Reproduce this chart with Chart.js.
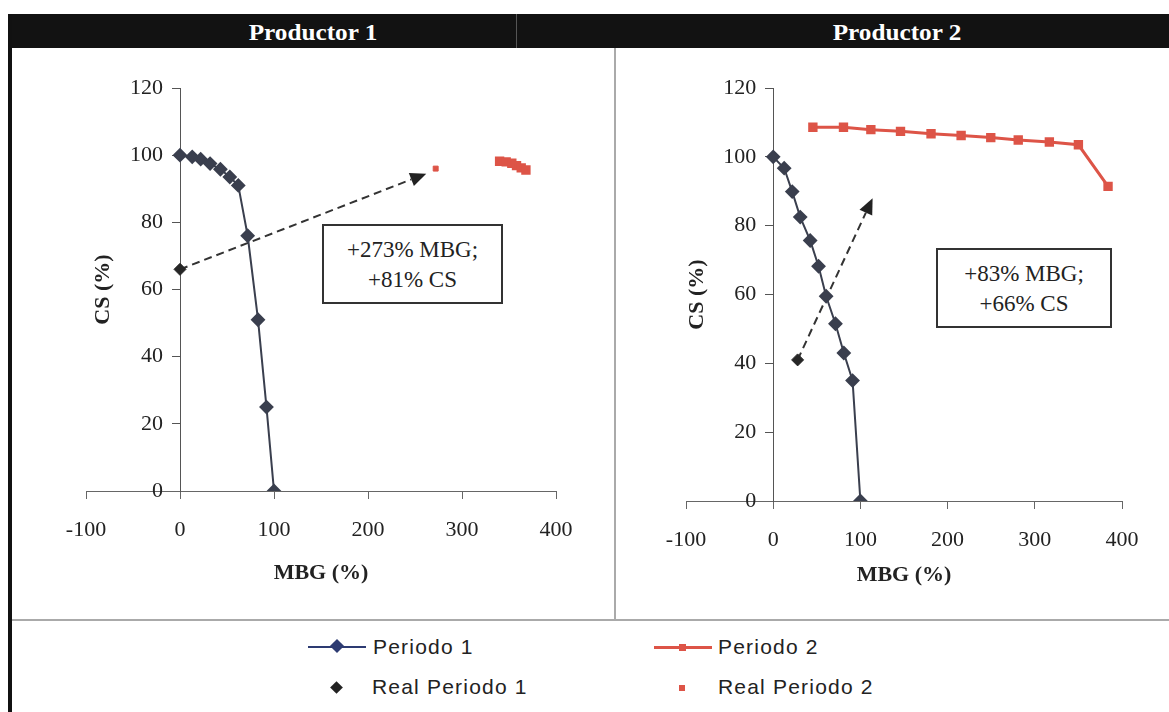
<!DOCTYPE html>
<html>
<head>
<meta charset="utf-8">
<script src="https://cdn.jsdelivr.net/npm/chart.js@4.4.1/dist/chart.umd.min.js"></script>
<style>
  body { margin: 0; background: #fff; width: 1169px; height: 712px; position: relative; overflow: hidden; font-family: "Liberation Serif", serif; }
  .abs { position: absolute; }
  #head { left: 10px; top: 14px; width: 1159px; height: 34px; background: #121212; }
  .htitle { top: 14px; height: 34px; line-height: 36px; color: #fff; font-weight: bold; font-size: 24px; transform: translateX(-50%) scaleX(1.05); white-space: nowrap; }
  #hsplit { left: 516px; top: 14px; width: 1px; height: 34px; background: #555; }
  #leftEdge { left: 8px; top: 14px; width: 4px; height: 698px; background: #111; }
  #vsplit { left: 614px; top: 48px; width: 2px; height: 572px; background: #aaa; }
  #hline { left: 12px; top: 619px; width: 1157px; height: 2px; background: #aaa; }
  .note { border: 2px solid #333; background: #fff; text-align: center; font-size: 23px; line-height: 30px; color: #222; box-sizing: border-box; padding-top: 9px; }
  .lg { font-family: "Liberation Sans", Arial, sans-serif; font-size: 21px; letter-spacing: 1.2px; color: #222; line-height: 22px; }
</style>
</head>
<body>
<div id="head" class="abs"></div>
<div id="hsplit" class="abs"></div>
<div class="abs htitle" style="left:313px">Productor 1</div>
<div class="abs htitle" style="left:897px">Productor 2</div>
<div id="leftEdge" class="abs"></div>
<div id="vsplit" class="abs"></div>
<div id="hline" class="abs"></div>

<canvas id="chart1" class="abs" width="602" height="570" style="left:12px;top:50px"></canvas>
<canvas id="chart2" class="abs" width="552" height="570" style="left:617px;top:50px"></canvas>

<div class="abs note" style="left:322px;top:224px;width:181px;height:80px">+273% MBG;<br>+81% CS</div>
<div class="abs note" style="left:936px;top:248px;width:176px;height:80px">+83% MBG;<br>+66% CS</div>

<!-- legend -->
<div class="abs" style="left:308px;top:646px;width:58px;height:2px;background:#2d3b72"></div>
<div class="abs" style="left:332px;top:641px;width:10px;height:10px;background:#2d3b72;transform:rotate(45deg)"></div>
<div class="abs lg" style="left:373px;top:636px">Periodo 1</div>
<div class="abs" style="left:654px;top:646px;width:58px;height:3px;background:#dd5447"></div>
<div class="abs" style="left:679px;top:644px;width:7px;height:7px;background:#dd5447"></div>
<div class="abs lg" style="left:718px;top:636px">Periodo 2</div>
<div class="abs" style="left:332px;top:683px;width:9px;height:9px;background:#222;transform:rotate(45deg)"></div>
<div class="abs lg" style="left:372px;top:676px">Real Periodo 1</div>
<div class="abs" style="left:679px;top:685px;width:6px;height:6px;background:#dd5447"></div>
<div class="abs lg" style="left:718px;top:676px">Real Periodo 2</div>

<script>
// Productor 1
var p1Per1X = [0, 13, 22, 32, 43, 53, 62, 72, 83, 92, 100];
var p1Per1Y = [100, 99.5, 98.8, 97.5, 95.8, 93.5, 91, 76, 51, 25, 0];
var p1Per2X = [340, 347, 353, 358, 363, 368];
var p1Per2Y = [98.2, 98.0, 97.6, 96.9, 96.2, 95.6];
var p1Real1 = [0, 66];
var p1Real2 = [272, 96];
var p1Arrow = [[0, 66], [262, 94.5]];

// Productor 2
var p2Per1X = [0, 12.6, 21.8, 31, 42.4, 52, 60.7, 71.4, 81, 91, 100];
var p2Per1Y = [100, 96.7, 89.9, 82.5, 75.7, 68.2, 59.5, 51.5, 43, 35, 0];
var p2Per2X = [45.5, 80.6, 112, 146, 181, 215.5, 249.5, 281, 316.7, 350, 384];
var p2Per2Y = [108.6, 108.6, 107.9, 107.4, 106.7, 106.2, 105.6, 104.9, 104.3, 103.5, 91.4];
var p2Real1 = [28, 41];
var p2Arrow = [[28, 41], [114, 88]];

// axis ticks
var xMin = -100, xMax = 400, xStep = 100;
var yMin = 0, yMax = 120, yStep = 20;

var slate = '#3a3f4e';
var red = '#dd5447';
var serif = '"Liberation Serif", "Times New Roman", serif';
var tickSize = 22;
var yTickLen = 8, yTickPad = 9;

function pts(xs, ys) {
    var out = [];
    for (var i = 0; i < xs.length; i++) out.push({ x: xs[i], y: ys[i] });
    return out;
}

// dashed arrow, y tick labels and axis titles
var extras = {
    id: 'extras',
    beforeDatasetsDraw: function (chart, args, opts) {
        var ctx = chart.ctx, sx = chart.scales.x, sy = chart.scales.y;
        var a = opts.arrow;
        var x0 = sx.getPixelForValue(a[0][0]), y0 = sy.getPixelForValue(a[0][1]);
        var x1 = sx.getPixelForValue(a[1][0]), y1 = sy.getPixelForValue(a[1][1]);
        var ang = Math.atan2(y1 - y0, x1 - x0);
        var len = 16, half = 7;
        var bx = x1 - len * Math.cos(ang), by = y1 - len * Math.sin(ang);
        ctx.save();
        ctx.strokeStyle = '#333';
        ctx.lineWidth = 2;
        ctx.setLineDash([8, 5]);
        ctx.beginPath();
        ctx.moveTo(x0, y0);
        ctx.lineTo(bx, by);
        ctx.stroke();
        ctx.setLineDash([]);
        ctx.fillStyle = '#222';
        ctx.beginPath();
        ctx.moveTo(x1, y1);
        ctx.lineTo(bx + half * Math.sin(ang), by - half * Math.cos(ang));
        ctx.lineTo(bx - half * Math.sin(ang), by + half * Math.cos(ang));
        ctx.closePath();
        ctx.fill();
        ctx.restore();
    },
    afterDraw: function (chart, args, opts) {
        var ctx = chart.ctx, sx = chart.scales.x, sy = chart.scales.y;
        var axisX = sx.getPixelForValue(0);
        ctx.save();
        ctx.fillStyle = '#222';
        // y labels sit left of the tick marks on the x = 0 axis
        ctx.font = tickSize + 'px ' + serif;
        ctx.textAlign = 'right';
        ctx.textBaseline = 'middle';
        sy.ticks.forEach(function (t) {
            ctx.fillText(String(t.value), axisX - yTickLen - yTickPad, sy.getPixelForValue(t.value));
        });
        ctx.font = 'bold 22px ' + serif;
        ctx.textAlign = 'center';
        ctx.fillText('MBG (%)', (sx.left + sx.right) / 2, sy.getPixelForValue(0) + opts.xTitleGap);
        ctx.translate(axisX - opts.yTitleGap, (sy.top + sy.bottom) / 2);
        ctx.rotate(-Math.PI / 2);
        ctx.fillText('CS (%)', 0, 0);
        ctx.restore();
    }
};

function axes() {
    var tickFont = { family: serif, size: tickSize };
    return {
        x: {
            type: 'linear', min: xMin, max: xMax,
            position: { y: 0 },
            ticks: { stepSize: xStep, padding: 19, color: '#222', font: tickFont },
            grid: { display: true, drawOnChartArea: false, drawTicks: true, tickLength: 7, color: '#666' },
            border: { display: true, color: '#666', width: 1 }
        },
        y: {
            type: 'linear', min: yMin, max: yMax,
            position: { x: 0 },
            ticks: { stepSize: yStep, display: false, font: tickFont },
            grid: { display: true, drawOnChartArea: false, drawTicks: true, tickLength: yTickLen, color: '#555' },
            border: { display: true, color: '#555', width: 1 }
        }
    };
}

function makeChart(id, per1, per2, real1, real2, arrow, pad, xTitleGap, yTitleGap) {
    var sets = [
        { label: 'Periodo 1', data: per1, showLine: true, borderColor: slate, borderWidth: 2,
          pointStyle: 'rectRot', pointRadius: 6, pointBackgroundColor: slate, pointBorderColor: slate },
        { label: 'Periodo 2', data: per2, showLine: true, borderColor: red, borderWidth: 3,
          pointStyle: 'rect', pointRadius: 4.5, pointBackgroundColor: red, pointBorderColor: red },
        { label: 'Real Periodo 1', data: [{ x: real1[0], y: real1[1] }], showLine: false,
          pointStyle: 'rectRot', pointRadius: 6, pointBackgroundColor: '#262626', pointBorderColor: '#262626' }
    ];
    if (real2) {
        sets.push({ label: 'Real Periodo 2', data: [{ x: real2[0], y: real2[1] }], showLine: false,
          pointStyle: 'rect', pointRadius: 3.5, pointBackgroundColor: red, pointBorderColor: red });
    }
    return new Chart(document.getElementById(id), {
        type: 'scatter',
        data: { datasets: sets },
        options: {
            responsive: false,
            animation: false,
            devicePixelRatio: 1,
            layout: { padding: pad },
            scales: axes(),
            plugins: {
                legend: { display: false },
                tooltip: { enabled: false },
                extras: { arrow: arrow, xTitleGap: xTitleGap, yTitleGap: yTitleGap }
            }
        },
        plugins: [extras]
    });
}

makeChart('chart1', pts(p1Per1X, p1Per1Y), pts(p1Per2X, p1Per2Y), p1Real1, p1Real2, p1Arrow,
    { left: 74, right: 58, top: 38, bottom: 129 }, 82, 77);
makeChart('chart2', pts(p2Per1X, p2Per1Y), pts(p2Per2X, p2Per2Y), p2Real1, null, p2Arrow,
    { left: 69, right: 47, top: 38, bottom: 119 }, 74, 76);
</script>
</body>
</html>
